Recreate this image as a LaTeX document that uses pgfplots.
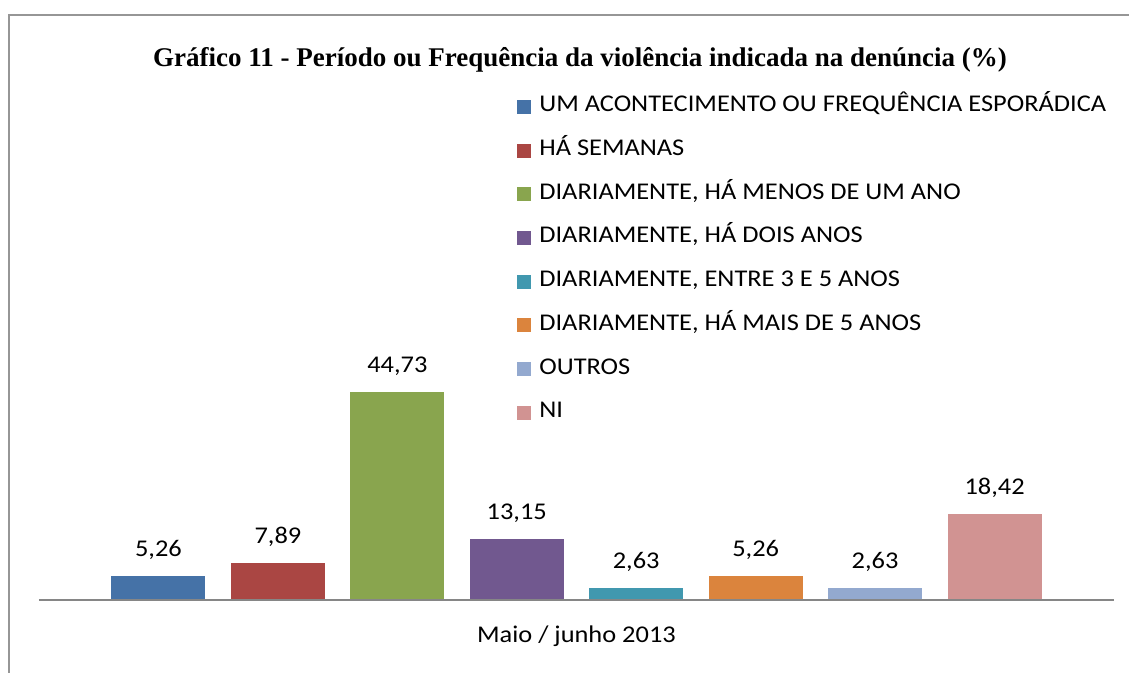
\documentclass[border=0pt]{standalone}
\usepackage{fontspec}
\setmainfont{Carlito}[FakeStretch=1.1]
\newfontfamily\titlefont{Liberation Serif}
\usepackage{pgfplots}
\pgfplotsset{compat=1.18}

\definecolor{c1}{RGB}{69,114,167}
\definecolor{c2}{RGB}{170,70,67}
\definecolor{c3}{RGB}{137,165,78}
\definecolor{c4}{RGB}{113,88,143}
\definecolor{c5}{RGB}{65,152,175}
\definecolor{c6}{RGB}{219,132,61}
\definecolor{c7}{RGB}{147,169,207}
\definecolor{c8}{RGB}{209,147,146}
\definecolor{framegray}{RGB}{150,150,150}
\definecolor{axisgray}{RGB}{134,134,134}

\begin{document}
\begin{tikzpicture}[x=0.5pt,y=0.5pt]
% picture units are pixels of the reference, origin at the axis' lower left corner
\useasboundingbox (-39,-73) rectangle (1090,600);
% frame (cropped on right and bottom)
\draw[framegray,line width=1pt] (-29.5,-73) -- (-29.5,585) -- (1090,585);
\node[font=\titlefont\bfseries\fontsize{13.5}{16}\selectfont,anchor=base] at (541,533) {Gráfico 11 - Período ou Frequência da violência indicada na denúncia (\%)};

\begin{axis}[
  anchor=south west,
  scale only axis, width=537.5pt, height=116.25pt,
  xmin=-1, xmax=8, ymin=0, ymax=50,
  hide y axis,
  axis x line*=bottom,
  axis on top,
  x axis line style={axisgray,line width=1pt,-},
  xtick=\empty,
  xlabel={Maio / junho 2013},
  xlabel style={font=\fontsize{12}{14}\selectfont,at={(axis description cs:0.5,0)},anchor=base,yshift=-21.5pt,inner sep=0pt},
  ybar, bar width=47pt, bar shift=0pt,
  every axis plot/.append style={draw=none},
  nodes near coords,
  nodes near coords style={font=\fontsize{12}{14}\selectfont,anchor=base,yshift=9.75pt,inner sep=0pt,text=black,
    /pgf/number format/.cd,use comma,fixed,fixed zerofill,precision=2,assume math mode=true},
  legend image code/.code={\fill[#1,draw=none] (0pt,-3.5pt) rectangle (7pt,3.5pt);},
  legend cell align=left,
  legend style={draw=none,fill=none,at={(axis description cs:0.4446,2.1746)},anchor=north west,
    font=\fontsize{12}{14}\selectfont,row sep=9.85pt,inner sep=0pt,
    nodes={inner sep=0pt,text height=8.5pt,text depth=3.5pt},
    /tikz/every odd column/.append style={column sep=4pt}},
]
\addplot[fill=c1] coordinates {(0,5.26)};
\addlegendentry{UM ACONTECIMENTO OU FREQUÊNCIA ESPORÁDICA}
\addplot[fill=c2] coordinates {(1,7.89)};
\addlegendentry{HÁ SEMANAS}
\addplot[fill=c3] coordinates {(2,44.73)};
\addlegendentry{DIARIAMENTE, HÁ MENOS DE UM ANO}
\addplot[fill=c4] coordinates {(3,13.15)};
\addlegendentry{DIARIAMENTE, HÁ DOIS ANOS}
\addplot[fill=c5] coordinates {(4,2.63)};
\addlegendentry{DIARIAMENTE, ENTRE 3 E 5 ANOS}
\addplot[fill=c6] coordinates {(5,5.26)};
\addlegendentry{DIARIAMENTE, HÁ MAIS DE 5 ANOS}
\addplot[fill=c7] coordinates {(6,2.63)};
\addlegendentry{OUTROS}
\addplot[fill=c8] coordinates {(7,18.42)};
\addlegendentry{NI}
\end{axis}
\end{tikzpicture}
\end{document}
